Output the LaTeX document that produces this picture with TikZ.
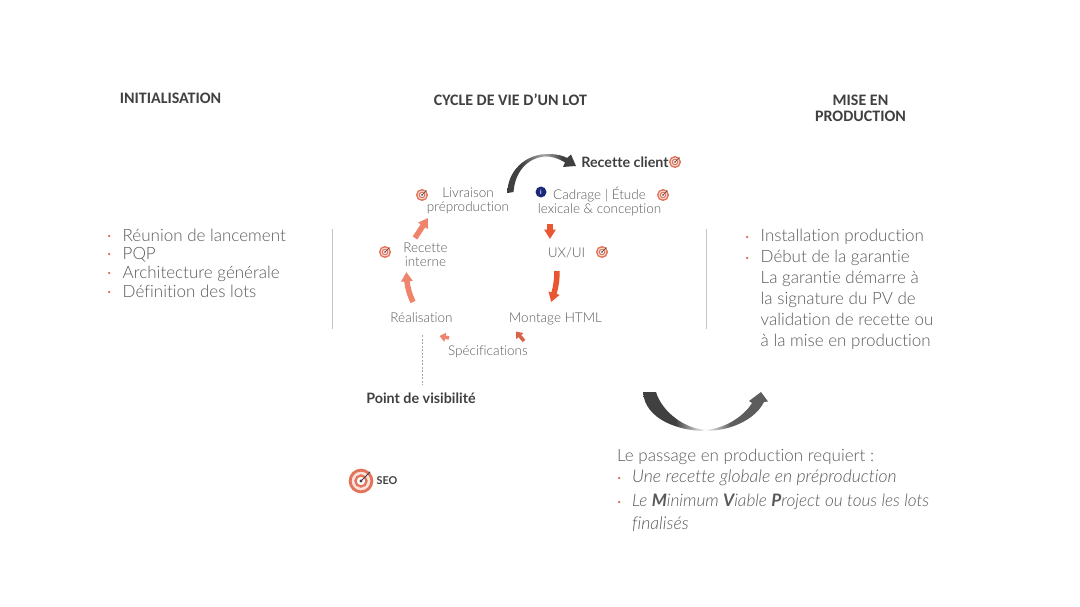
\documentclass[tikz,border=0pt]{standalone}
\usepackage{fontspec}
\usetikzlibrary{arrows.meta,bending}
\setmainfont{Lato Light}[Ligatures=NoCommon]
\newfontfamily\headfont{Carlito}
\newfontfamily\boldfont{Lato}[Ligatures=NoCommon]
\definecolor{bodygray}{HTML}{595959}
\definecolor{headgray}{HTML}{404040}
\definecolor{salmon}{HTML}{F0836C}
\definecolor{ringred}{HTML}{E2745C}
\definecolor{ringpale}{HTML}{FBE3DC}
\definecolor{redarrow}{HTML}{EA5532}
\definecolor{rust}{HTML}{D9634A}
\definecolor{navy}{HTML}{1B2A78}
\definecolor{divgray}{HTML}{C4C4C4}
\pgfdeclarehorizontalshading{fadearc}{100bp}{color(0bp)=(headgray); color(38bp)=(headgray); color(50bp)=(white); color(60bp)=(headgray!85); color(100bp)=(headgray!85)}
\pgfdeclarehorizontalshading{fadetop}{100bp}{color(0bp)=(headgray); color(35bp)=(headgray); color(52bp)=(headgray!45); color(65bp)=(headgray); color(100bp)=(headgray)}
\tikzset{
  x=1pt,y=-1pt,
  headtext/.style={font=\headfont\bfseries\fontsize{16}{16}\selectfont,text=headgray,align=center,inner sep=0pt},
  cycletext/.style={font=\fontsize{13.5}{14}\selectfont,text=bodygray,align=center,inner sep=0pt},
  boldtext/.style={font=\boldfont\bfseries\fontsize{14.3}{15}\selectfont,text=headgray,inner sep=0pt},
  bodytext/.style={font=\fontsize{17}{19}\selectfont,text=bodygray,anchor=base west,inner sep=0pt},
  itemtext/.style={bodytext,font=\itshape\fontsize{17.6}{19}\selectfont},
  itemnarrow/.style={bodytext,font=\itshape\fontsize{17.2}{19}\selectfont},
  bulletdot/.style={circle,fill=rust,inner sep=0pt,minimum size=2.5pt},
  flow/.style={line width=#1,-{Triangle[length=#1*1.7,width=#1*2,flex=1,bend]}},
  flow/.default=5pt,
  blobflow/.style={line width=3.5pt,-{Triangle[length=6pt,width=9pt]}},
  divider/.style={draw=divgray,line width=1pt},
  pics/target/.style={code={
    \draw[draw=ringred,line width=1.4pt*#1,fill=ringpale] (0,0) circle[radius=5.3*#1];
    \draw[draw=ringred,line width=1.1pt*#1,fill=white] (0,0) circle[radius=2.7*#1];
    \fill[headgray] (0,0) circle[radius=0.8*#1];
    \draw[headgray,line width=0.45pt*#1] (0,0) -- (4.5*#1,-4.5*#1);
  }},
  pics/target/.default=1,
}
\begin{document}
\begin{tikzpicture}
\useasboundingbox (0,0) rectangle (1080,607);
% headers
\node[headtext] (hinit) at (170.5,98) {INITIALISATION};
\node[headtext] (hcycle) at (510.5,100) {CYCLE DE VIE D’UN LOT};
\node[headtext] (hprod) at (860.5,108) {MISE EN\\PRODUCTION};
% left list
\foreach \nm/\yy/\tx in {a/241/Réunion de lancement,b/259/PQP,c/278/Architecture générale,d/297/Définition des lots}{
  \node[bodytext] (l\nm) at (122.5,\yy) {\tx};
  \node[bulletdot] (lb\nm) at (109,\yy-5) {};
}
% dividers
\coordinate (d1a) at (332,229); \coordinate (d1b) at (332,329);
\coordinate (d2a) at (706,229); \coordinate (d2b) at (706,329);
\draw[divider] (d1a) -- (d1b);
\draw[divider] (d2a) -- (d2b);
% cycle labels
\node[cycletext] (livraison) at (468,201) {Livraison\\préproduction};
\node[cycletext] (cadrage) at (599.5,201) {Cadrage | Étude\\lexicale \& conception};
\node[cycletext] (ux) at (566.5,253) {UX/UI};
\node[cycletext] (recette) at (425.5,254.5) {Recette\\interne};
\node[cycletext] (realisation) at (421.5,317.5) {Réalisation};
\node[cycletext] (montage) at (555.5,319) {Montage HTML};
\node[cycletext] (specs) at (488,351.5) {Spécifications};
\node[boldtext] (client) at (625,162) {Recette client};
\node[boldtext] (point) at (421,398.5) {Point de visibilité};
\node[font=\boldfont\bfseries\fontsize{10.8}{12}\selectfont,text=headgray,inner sep=0pt] (seo) at (387,481) {SEO};
% targets
\pic at (675,162) {target};
\pic at (663,195) {target};
\pic at (602,252) {target};
\pic at (422,195) {target};
\pic at (385,252) {target};
\pic at (361,481) {target=2.05};
% info badge
\node[circle,fill=navy,text=white,inner sep=0pt,minimum size=11pt,font=\boldfont\bfseries\fontsize{6}{6}\selectfont] (info) at (541,192) {i};
% cycle arrows
\coordinate (a1s) at (413,302); \coordinate (a1e) at (406.5,272);
\draw[flow=5.5pt,salmon] (a1s) to[bend left=12] (a1e);
\coordinate (a2s) at (415,238); \coordinate (a2e) at (428,218);
\draw[flow=5.5pt,salmon] (a2s) -- (a2e);
\coordinate (a3s) at (550,224); \coordinate (a3e) at (550,239);
\draw[flow=5.5pt,redarrow] (a3s) -- (a3e);
\coordinate (a4s) at (557,271); \coordinate (a4e) at (551,302);
\draw[flow=5.5pt,redarrow] (a4s) to[bend left=10] (a4e);
\coordinate (a5s) at (524,341); \coordinate (a5e) at (516,331.5);
\draw[blobflow,rust] (a5s) -- (a5e);
\coordinate (a6s) at (449,338); \coordinate (a6e) at (439.5,336);
\draw[blobflow,salmon] (a6s) -- (a6e);
% dashed
\coordinate (ptop) at (422,335); \coordinate (pbot) at (422,385);
\draw[black!35,line width=0.8pt,dash pattern=on 2pt off 1.5pt] (ptop) -- (pbot);
% dark curved arrow top
\shade[shading=fadetop]
  (507.5,193) .. controls (507,172) and (525,153) .. (550,154)
  .. controls (558,154.3) and (564,156) .. (567,158)
  -- (571,154.5) -- (576,166) -- (563,167) -- (565,162.5)
  .. controls (558,158) and (550,156) .. (545,156.5)
  .. controls (527,158) and (515,172) .. (513.5,192) -- cycle;
% dark curved arrow bottom
\shade[shading=fadearc]
  (643,392) -- (656,392)
  .. controls (662,412) and (685,429) .. (705,429.5)
  .. controls (725,429.5) and (745,415) .. (752,403)
  -- (749,401) -- (761,392) -- (768,401.5) -- (764,402)
  .. controls (755,420) and (730,431) .. (705,431)
  .. controls (680,431) and (645,420) .. (643,392) -- cycle;
% right list
\foreach \nm/\yy/\tx in {a/241/Installation production,b/262/Début de la garantie}{
  \node[bodytext] (r\nm) at (760.5,\yy) {\tx};
  \node[bulletdot] (rb\nm) at (747,\yy-4) {};
}
\foreach \nm/\yy/\tx in {c/283/La garantie démarre à,d/304/la signature du PV de,e/325/validation de recette ou,f/346/à la mise en production}{
  \node[bodytext] (r\nm) at (760.5,\yy) {\tx};
}
% bottom text
\node[bodytext] (q0) at (617,461) {Le passage en production requiert :};
\node[itemtext] (q1) at (632,482) {Une recette globale en préproduction};
\node[itemnarrow] (q2) at (632,506) {Le {\boldfont\bfseries M}inimum {\boldfont\bfseries V}iable {\boldfont\bfseries P}roject ou tous les lots};
\node[itemtext] (q3) at (632,529) {finalisés};
\node[bulletdot] (qb1) at (619,478) {};
\node[bulletdot] (qb2) at (619,502) {};
\end{tikzpicture}
\end{document}
